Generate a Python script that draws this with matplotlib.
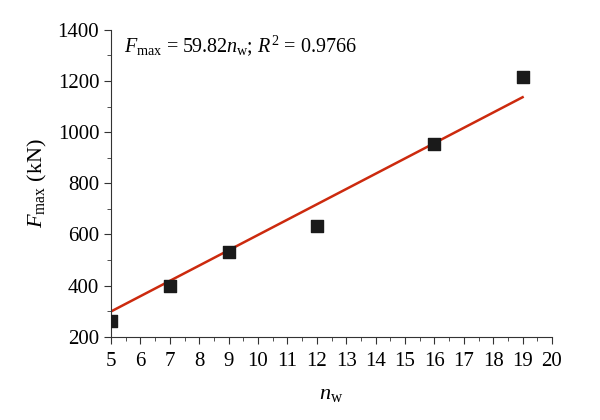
import numpy as np
import matplotlib.pyplot as plt
from matplotlib.ticker import MultipleLocator

n_w = [5, 7, 9, 12, 16, 19]
f_max = [262, 398, 532, 632, 955, 1215]
slope = 59.82
r2 = 0.9766

plt.rcParams['font.family'] = ['Liberation Serif', 'DejaVu Serif']
plt.rcParams['mathtext.fontset'] = 'custom'
plt.rcParams['mathtext.rm'] = 'Liberation Serif'
plt.rcParams['mathtext.it'] = 'Liberation Serif:italic'

fig = plt.figure(figsize=(6, 4.2), dpi=100)
ax = fig.add_axes([0.185, 0.198, 0.735, 0.731])

x_fit = np.array([min(n_w), max(n_w)])
ax.plot(x_fit, slope * x_fit, color='#cc2a0e', lw=1.8, zorder=2)
ax.scatter(n_w, f_max, marker='s', s=75, color='#1a1a1a', zorder=3, clip_on=True)

ax.set_xlim(5, 20)
ax.set_ylim(200, 1400)
ax.xaxis.set_major_locator(MultipleLocator(1))
ax.xaxis.set_minor_locator(MultipleLocator(0.5))
ax.yaxis.set_major_locator(MultipleLocator(200))
ax.yaxis.set_minor_locator(MultipleLocator(100))
for s in ['top', 'right']:
    ax.spines[s].set_visible(False)
for s in ['left', 'bottom']:
    ax.spines[s].set_color('#333333')
ax.tick_params(which='major', direction='out', length=5, color='#333333', labelsize=15)
ax.tick_params(axis='x', which='major', pad=6)
ax.tick_params(which='minor', direction='out', length=3, color='#333333')

ax.set_xlabel(r'$n_\mathrm{w}$', fontsize=16, labelpad=10)
ax.set_ylabel(r'$F_\mathrm{max}$ (kN)', fontsize=16, labelpad=6)

ax.text(5.45, 1340, r'$F_\mathrm{max}$ = 59.82$n_\mathrm{w}$; $R^2$ = 0.9766',
        fontsize=14.5, va='center', ha='left')

fig.savefig('out.png', dpi=100)
